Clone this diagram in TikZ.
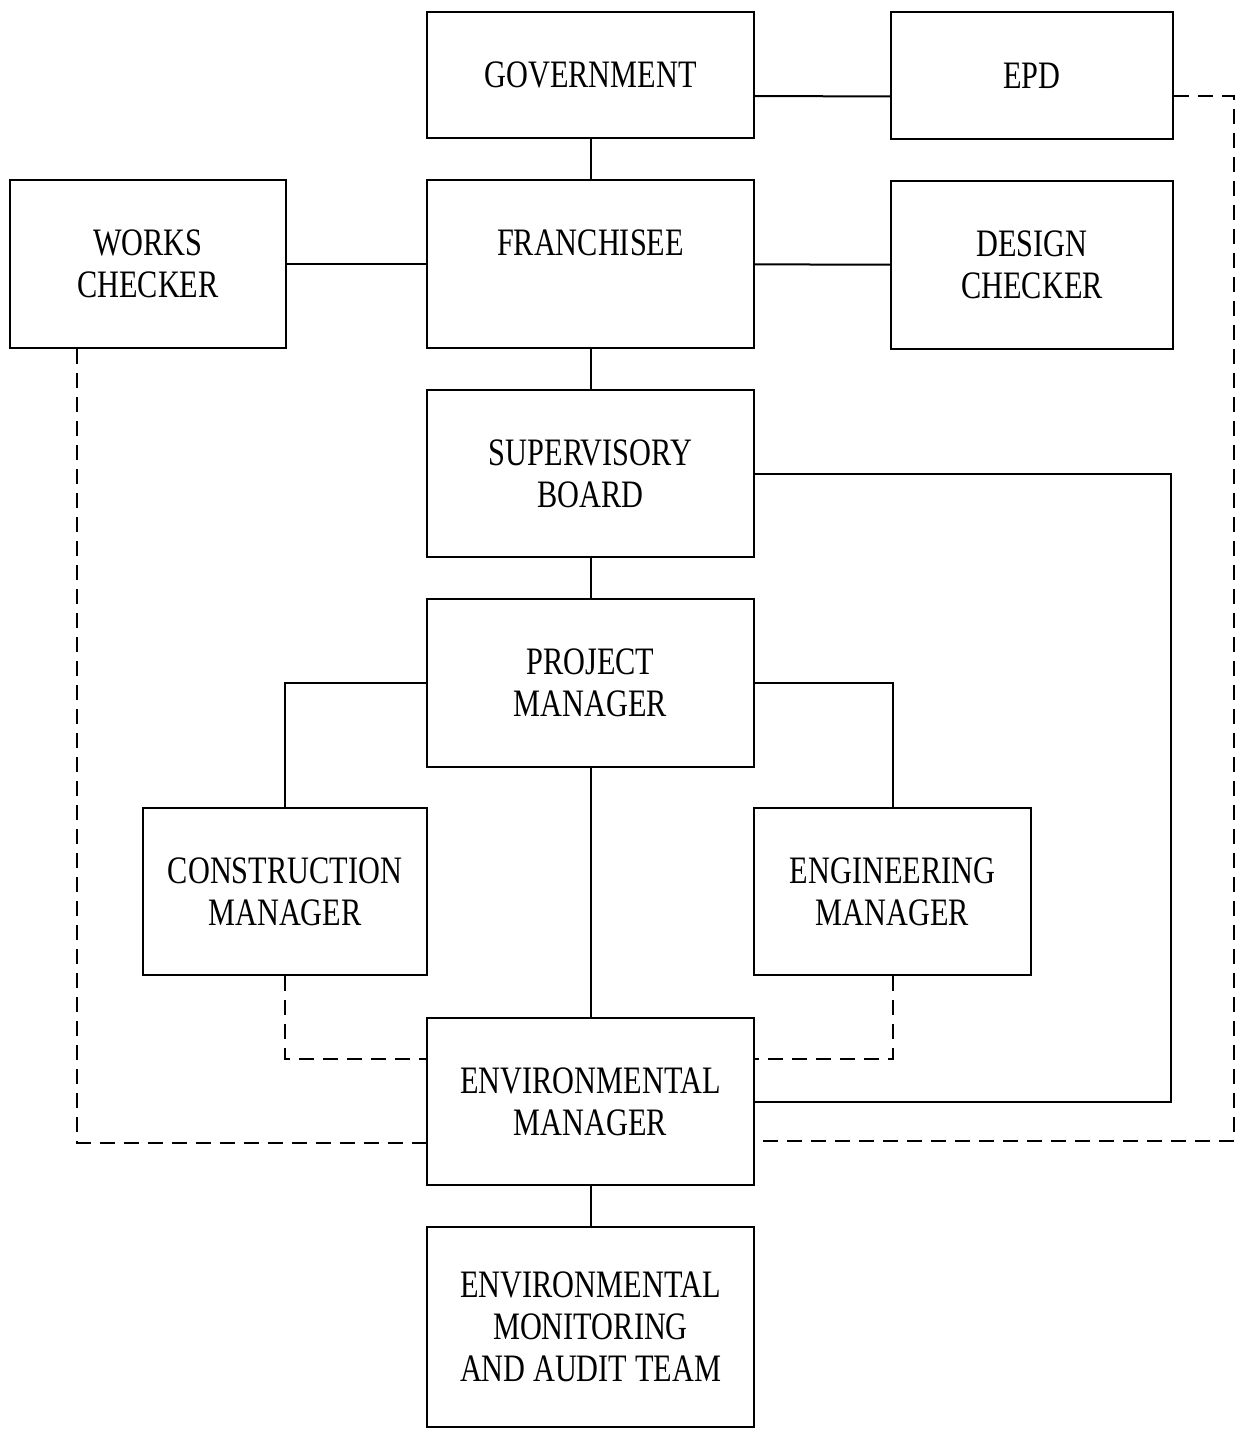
\documentclass[tikz,border=0pt]{standalone}
\usepackage{fontspec}
\setmainfont{Liberation Serif}[FakeStretch=0.78]
\usepackage{tikz}
\usetikzlibrary{arrows,shapes}
\tikzstyle{box}=[rectangle,draw,line width=2bp,align=center,inner sep=0pt,font=\fontsize{39}{42}\selectfont]
\tikzstyle{edge} = [draw,line width=2bp,-]
\tikzstyle{dashededge} = [draw,line width=2bp,dash pattern=on 15bp off 9bp,-]

\begin{document}
\begin{tikzpicture}[x=1bp,y=-1bp]
          \useasboundingbox (0,0) rectangle (1236,1433);
          \node[box,minimum width=327bp,minimum height=126bp] (gov) at (590.5,75) {GOVERNMENT};
          \node[box,minimum width=282bp,minimum height=127bp] (epd) at (1032,75.5) {EPD};
          \node[box,minimum width=276bp,minimum height=168bp] (works) at (148,264) {WORKS\\CHECKER};
          \node[box,minimum width=327bp,minimum height=168bp] (fran) at (590.5,264) {FRANCHISEE\\\phantom{X}};
          \node[box,minimum width=282bp,minimum height=168bp] (design) at (1032,265) {DESIGN\\CHECKER};
          \node[box,minimum width=327bp,minimum height=167bp] (board) at (590.5,473.5) {SUPERVISORY\\BOARD};
          \node[box,minimum width=327bp,minimum height=168bp] (pm) at (590.5,683) {PROJECT\\MANAGER};
          \node[box,minimum width=284bp,minimum height=167bp] (cm) at (285,891.5) {CONSTRUCTION\\MANAGER};
          \node[box,minimum width=277bp,minimum height=167bp] (engm) at (892.5,891.5) {ENGINEERING\\MANAGER};
          \node[box,minimum width=327bp,minimum height=167bp] (em) at (590.5,1101.5) {ENVIRONMENTAL\\MANAGER};
          \node[box,minimum width=327bp,minimum height=200bp] (emat) at (590.5,1327) {ENVIRONMENTAL\\MONITORING\\AND AUDIT TEAM};
          \coordinate (govr) at ([yshift=-21bp]gov.east);
          \coordinate (epdl) at ([yshift=-21bp]epd.west);
          \coordinate (epdr) at ([yshift=-21bp]epd.east);
          \coordinate (wcl) at ([xshift=-71bp]works.south);
          \coordinate (emlu) at ([yshift=43bp]em.west);
          \coordinate (emru) at ([yshift=43bp]em.east);
          \coordinate (emld) at ([yshift=-41bp]em.west);
          \coordinate (emrd) at ([yshift=-39bp]em.east);
          \coordinate (rt) at (1171,0);
          \coordinate (re) at (1234,0);
          \draw[edge] (govr) to (epdl);
          \draw[edge] (gov) to (fran);
          \draw[edge] (works) to (fran);
          \draw[edge] (fran) to (design);
          \draw[edge] (fran) to (board);
          \draw[edge] (board) to (pm);
          \draw[edge] (board.east) -| (rt |- em.east) -- (em.east);
          \draw[edge] (pm.west) -| (cm.north);
          \draw[edge] (pm.east) -| (engm.north);
          \draw[edge] (pm) to (em);
          \draw[edge] (em) to (emat);
          \draw[dashededge] (cm.south) |- (emlu);
          \draw[dashededge] (engm.south) |- (emru);
          \draw[dashededge] (wcl) |- (emld);
          \draw[dashededge] (epdr) -| (re |- emrd) -- (emrd);
        \end{tikzpicture}
\end{document}
